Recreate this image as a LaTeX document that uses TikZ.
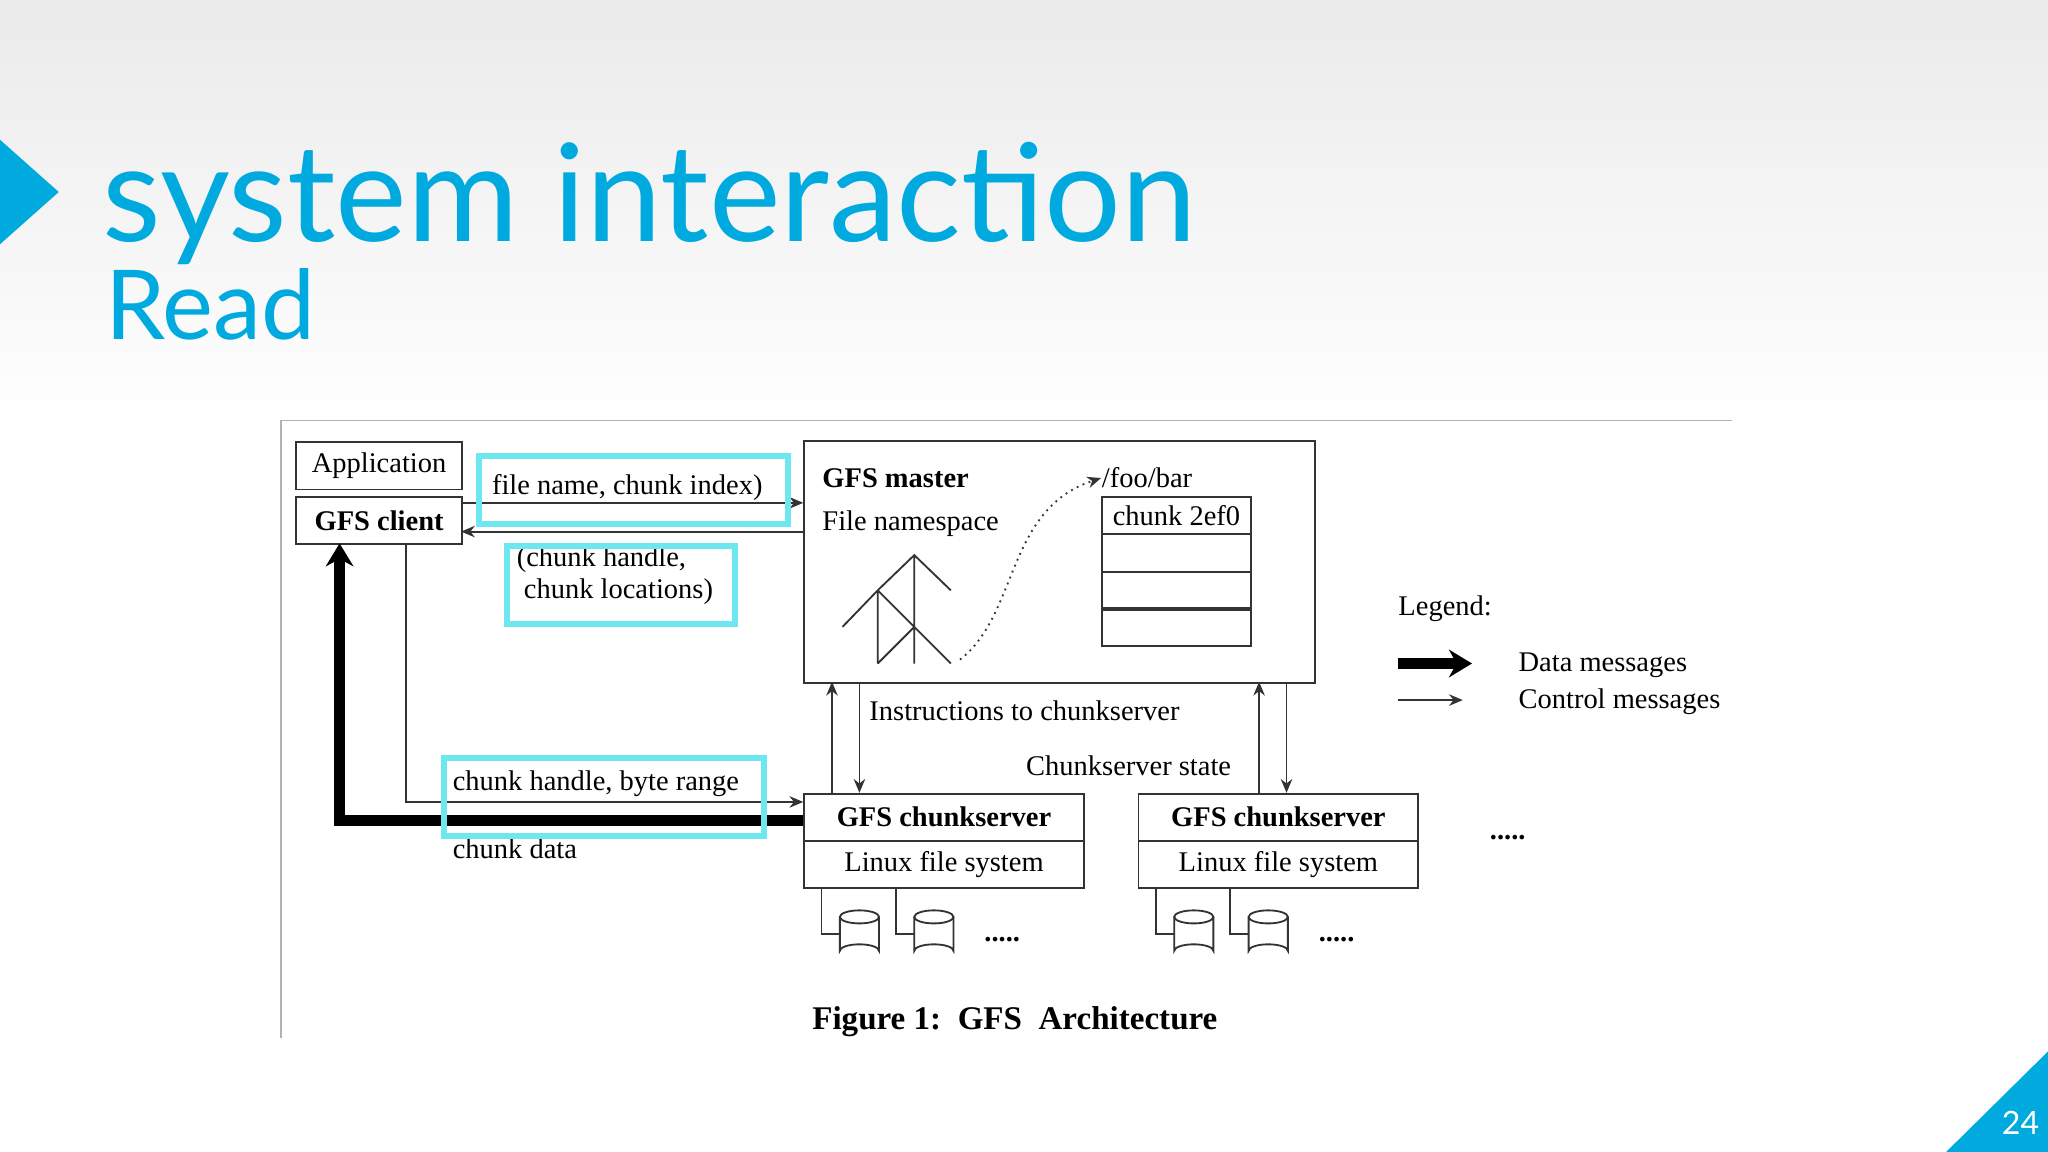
\documentclass[tikz,border=0pt]{standalone}
\usepackage{fontspec}
\setmainfont{Liberation Serif}
\newfontfamily\slidefont{Lato}
\usetikzlibrary{positioning,arrows.meta}
\definecolor{slidecyan}{RGB}{0,170,222}
\definecolor{markcyan}{RGB}{110,232,240}
\tikzset{
  box/.style={draw=black!80,thin,minimum width=1.27cm,minimum height=0.36cm,inner sep=0pt,font=\fontsize{6.2}{7}\selectfont},
  lbl/.style={font=\fontsize{6.2}{7}\selectfont,inner sep=0pt,anchor=west},
  hilite/.style={draw=markcyan,line width=1.3pt},
  thinarr/.style={-{Stealth[length=3pt,width=2.5pt]},black!80,thin},
  thickarr/.style={-{Stealth[length=5pt,width=6pt]},line width=2.4pt},
  disk/.style={draw=black!80,thin}
}
\newcommand{\drum}[2]{%
  \draw[disk,fill=white] (#1-15,#2) -- (#1-15,#2+26) arc[start angle=180,end angle=360,x radius=15,y radius=5] -- (#1+15,#2);
  \draw[disk,fill=white] (#1,#2) ellipse[x radius=15,y radius=5];}
\begin{document}
\begin{tikzpicture}[x=0.01cm,y=-0.01cm]
  \shade[top color=black!8,bottom color=white] (0,0) rectangle (1568,330);
  \fill[white] (0,330) rectangle (1568,882);
  \useasboundingbox (0,0) rectangle (1568,882);
  % slide frame
  \fill[slidecyan] (0,107) -- (45,147) -- (0,187) -- cycle;
  \node[anchor=base west,inner sep=0pt,text=slidecyan,font=\slidefont\fontsize{29.5}{32}\selectfont] (title) at (78,185) {system interaction};
  \node[anchor=base west,inner sep=0pt,text=slidecyan,font=\slidefont\fontsize{21}{24}\selectfont] (sub) at (80,260) {Read};
  \fill[slidecyan] (1490,882) -- (1568,805) -- (1568,882) -- cycle;
  \node[text=white,font=\slidefont\fontsize{7}{8}\selectfont] (page) at (1547,860) {24};
  % figure
  \draw[black!30] (215,795) -- (215,322) -- (1326,322);
  \node[box,anchor=north west] (app) at (226,338) {Application};
  \node[box,anchor=north west,font=\fontsize{6.2}{7}\selectfont\bfseries] (client) at (226,380) {GFS client};
  \node[box,anchor=north west,minimum width=3.91cm,minimum height=1.85cm] (master) at (615,337) {};
  \node[lbl,font=\fontsize{6.2}{7}\selectfont\bfseries] (mtitle) at (629,366) {GFS master};
  \node[lbl] (ns) at (629,401) {File namespace};
  \node[lbl] (foo) at (843,366) {/foo/bar};
  \node[box,anchor=north west,minimum width=1.14cm,minimum height=0.28cm] (c0) at (843,380) {chunk 2ef0};
  \foreach \n/\y in {c1/408,c2/437,c3/465}
    \node[box,anchor=north west,minimum width=1.14cm,minimum height=0.29cm] (\n) at (843,\y) {};
  % tree
  \draw[black!80,thin] (700,425) -- (700,508) (672,452) -- (700,425) -- (728,452)
    (645,480) -- (672,452) -- (700,480) (672,452) -- (672,508)
    (672,508) -- (700,480) -- (728,508);
  \coordinate (leaf) at (735,505);
  \draw[thinarr,densely dotted] (leaf) .. controls (780,470) and (770,390) .. (foo.west);
  % chunkservers
  \foreach \s/\x in {1/615,2/871}{
    \node[box,anchor=north west,minimum width=2.14cm,font=\fontsize{6.2}{7}\selectfont\bfseries] (cs\s) at (\x,607) {GFS chunkserver};
    \node[box,anchor=north west,minimum width=2.14cm] (fs\s) at (\x,643) {Linux file system};
    \draw[black!80,thin] (\x+14,679) |- (\x+28,715);
    \draw[black!80,thin] (\x+71,679) |- (\x+85,715);
    \drum{\x+43}{702}
    \drum{\x+100}{702}
    \node[lbl,font=\fontsize{6.2}{7}\selectfont\bfseries] at (\x+138,719) {.....};
  }
  \node[lbl,font=\fontsize{6.2}{7}\selectfont\bfseries] (more) at (1140,641) {.....};
  % messages
  \draw[thinarr] (353,385) -- (master.west |- 0,385);
  \draw[thinarr] (master.west |- 0,407) -- (353,407);
  \draw[thinarr] (311,416) |- (cs1.west |- 0,614);
  \draw[thickarr] (cs1.west |- 0,628) -| (260,416);
  \draw[thinarr] (637,607) -- (637,522);
  \draw[thinarr] (658,522) -- (658,607);
  \draw[thinarr] (964,607) -- (964,522);
  \draw[thinarr] (985,522) -- (985,607);
  \node[lbl] (l1) at (376,373) {file name, chunk index)};
  \node[lbl,align=left] (l2) at (395,441) {(chunk handle,\\\ chunk locations)};
  \node[lbl] (l3) at (346,600) {chunk handle, byte range};
  \node[lbl] (l4) at (346,650) {chunk data};
  \node[lbl] (l5) at (665,544) {Instructions to chunkserver};
  \node[lbl] (l6) at (785,586) {Chunkserver state};
  \draw[hilite] (367,349) rectangle (603,401);
  \draw[hilite] (388,418) rectangle (563,478);
  \draw[hilite] (340,580) rectangle (585,640);
  % legend
  \node[lbl] (leg) at (1070,466) {Legend:};
  \coordinate (d0) at (1070,508); \coordinate (d1) at (1127,508);
  \coordinate (k0) at (1070,536); \coordinate (k1) at (1120,536);
  \draw[thickarr,line width=2.6pt] (d0) -- (d1);
  \draw[thinarr] (k0) -- (k1);
  \node[lbl] (data) at (1162,509) {Data messages};
  \node[lbl] (ctrl) at (1162,537) {Control messages};
  \node[font=\fontsize{7.2}{8}\selectfont\bfseries] (cap) at (777,782) {Figure 1:\ \ GFS\ \ Architecture};
\end{tikzpicture}
\end{document}
